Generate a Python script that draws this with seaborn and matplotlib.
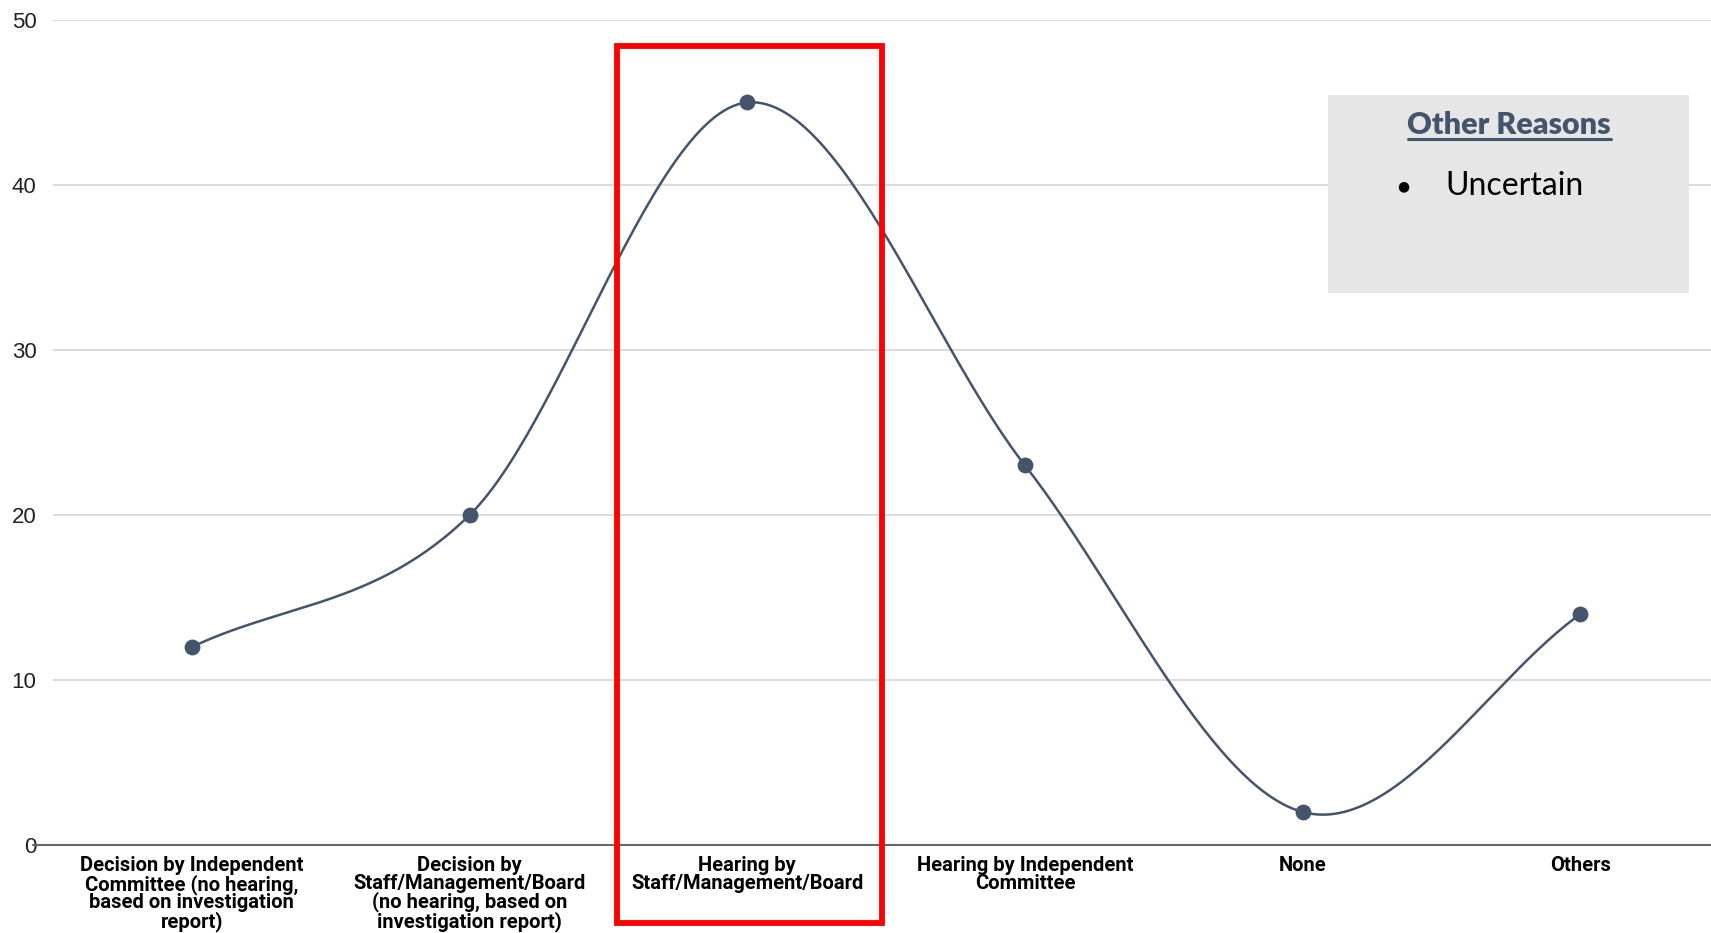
import numpy as np
import pandas as pd
import matplotlib
matplotlib.use("Agg")
import matplotlib.pyplot as plt
from matplotlib.patches import Rectangle
import seaborn as sns

# data
categories = [
    "Decision by Independent\nCommittee (no hearing,\nbased on investigation\nreport)",
    "Decision by\nStaff/Management/Board\n(no hearing, based on\ninvestigation report)",
    "Hearing by\nStaff/Management/Board",
    "Hearing by Independent\nCommittee",
    "None",
    "Others",
]
counts = [12, 20, 45, 23, 2, 14]
y_ticks = [0, 10, 20, 30, 40, 50]
other_reasons = ["Uncertain"]
highlight_idx = 2

LINE = "#44546a"

sns.set_theme(style="white")
plt.rcParams["font.family"] = ["Roboto", "DejaVu Sans"]

df = pd.DataFrame({"pos": np.arange(len(counts)), "count": counts})

# smooth curve (Catmull-Rom style, like the spreadsheet "smooth" line)
xs, ys = df["pos"].to_numpy(float), df["count"].to_numpy(float)
n = len(xs)
tang = np.zeros(n)
for i in range(n):
    a, b = max(i - 1, 0), min(i + 1, n - 1)
    tang[i] = (ys[b] - ys[a]) / (xs[b] - xs[a])
cx, cy = [], []
for i in range(n - 1):
    t = np.linspace(0, 1, 60)
    h = xs[i + 1] - xs[i]
    h00 = 2 * t**3 - 3 * t**2 + 1
    h10 = t**3 - 2 * t**2 + t
    h01 = -2 * t**3 + 3 * t**2
    h11 = t**3 - t**2
    cx.extend(xs[i] + t * h)
    cy.extend(h00 * ys[i] + h10 * h * tang[i] + h01 * ys[i + 1] + h11 * h * tang[i + 1])
curve = pd.DataFrame({"pos": cx, "count": cy})

fig = plt.figure(figsize=(17.11, 9.33), dpi=100)
ax = fig.add_axes([0.031, 0.0943, 0.969, 0.8843])

sns.lineplot(data=curve, x="pos", y="count", color=LINE, linewidth=1.8, ax=ax,
             sort=False, zorder=3)
sns.scatterplot(data=df, x="pos", y="count", color=LINE, s=130, edgecolor=LINE,
                linewidth=0, ax=ax, zorder=4)

ax.set_xlim(-0.5, 5.47)
ax.set_ylim(0, 50)
ax.set_yticks(y_ticks)
ax.set_yticklabels([str(v) for v in y_ticks], fontsize=16, color="#222222",
                   family=["Liberation Sans", "DejaVu Sans"])
ax.set_xticks(df["pos"])
ax.set_xticklabels(categories, fontsize=14.5, fontweight="bold", color="black",
                   linespacing=0.92)
ax.tick_params(axis="both", length=0)
ax.tick_params(axis="x", pad=8)
ax.tick_params(axis="y", pad=12)
ax.set_xlabel("")
ax.set_ylabel("")
for s in ax.spines.values():
    s.set_visible(False)
ax.yaxis.grid(True, color="#d9d9d9", linewidth=1.3)
ax.set_axisbelow(True)
ax.plot([-0.012, 1], [0, 0], transform=ax.get_yaxis_transform(), color="#666666",
        linewidth=1.5, clip_on=False, zorder=2)

# highlight box
ax.add_patch(Rectangle((highlight_idx + 0.008 - 0.476, -4.7), 0.952, 53.1, fill=False,
                       edgecolor="#ff0000", linewidth=4.2, clip_on=False, zorder=5))

# "Other Reasons" note
fig.patches.append(Rectangle((1328 / 1711, 1 - 293 / 933), 361 / 1711, 198 / 933,
                             transform=fig.transFigure, facecolor="#e6e6e6",
                             edgecolor="none", zorder=6))
fig.text(1509 / 1711, 1 - 125 / 933, "Other Reasons", ha="center", va="center",
         fontsize=22, fontweight="heavy", color=LINE, family=["Lato", "DejaVu Sans"],
         zorder=7)
fig.lines.append(plt.Line2D([1408 / 1711, 1611 / 1711], [1 - 139 / 933, 1 - 139 / 933],
                            transform=fig.transFigure, color=LINE, linewidth=2.2, zorder=7))
for k, item in enumerate(other_reasons):
    yy = 1 - (186 + 40 * k) / 933
    fig.text(1403 / 1711, yy, "\u25cf", ha="center", va="center", fontsize=10,
             color="black", family=["DejaVu Sans"], zorder=7)
    fig.text(1445 / 1711, yy, item, ha="left", va="center", fontsize=23,
             color="black", family=["Lato", "DejaVu Sans"], zorder=7)

fig.savefig("out.png", dpi=100)
